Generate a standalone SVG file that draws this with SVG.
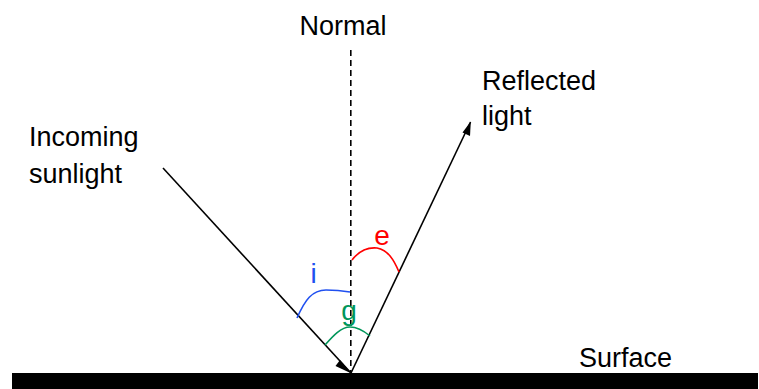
<svg xmlns="http://www.w3.org/2000/svg" width="759" height="389" viewBox="0 0 759 389">
<style>
text{font-family:"Liberation Sans",Arial,sans-serif;font-size:27px;fill:#000}
.lbl{font-size:28px}
.ray{stroke:#000;stroke-width:1.6;fill:none}
.head{fill:#000}
.arc{fill:none;stroke-width:1.6}
</style>
<g id="surface">
<rect x="12" y="373" width="746" height="16" fill="#000"/>
<text x="579" y="367">Surface</text>
</g>
<g id="normal">
<line x1="350.8" y1="50" x2="350.8" y2="373" stroke="#000" stroke-width="1.6" stroke-dasharray="6,4"/>
<text x="343" y="35" text-anchor="middle">Normal</text>
</g>
<g id="incoming-label">
<text x="29" y="146">Incoming</text>
<text x="29" y="183">sunlight</text>
</g>
<g id="reflected-label">
<text x="482" y="90">Reflected</text>
<text x="482" y="125">light</text>
</g>
<g id="connectors">
<line class="ray" x1="163" y1="168" x2="351" y2="373"/>
<path class="head" d="M340,360 L351.5,373.5 L335.5,366 Z"/>
<line class="ray" x1="351" y1="373" x2="470.5" y2="122"/>
<path class="head" d="M470.8,121.5 L470,136 L462.5,132.5 Z"/>
</g>
<g id="angle-i">
<path class="arc" stroke="#2050F0" d="M297,318 C305,300 312,290 326,290 C337,290 344,291 350,292"/>
<text class="lbl" x="313.5" y="283" text-anchor="middle" style="fill:#2050F0">i</text>
</g>
<g id="angle-e">
<path class="arc" stroke="#FF0000" d="M352,260 C359,251 367,247 377,248 C388,250 394,260 399,272"/>
<text class="lbl" x="382" y="245" text-anchor="middle" style="fill:#FF0000">e</text>
</g>
<g id="angle-g">
<path class="arc" stroke="#00965A" d="M325,345 C333,336 341,327 350,327 C358,327 364,331 370,336"/>
<text class="lbl" x="349" y="320" text-anchor="middle" style="fill:#00965A">g</text>
</g>
</svg>
